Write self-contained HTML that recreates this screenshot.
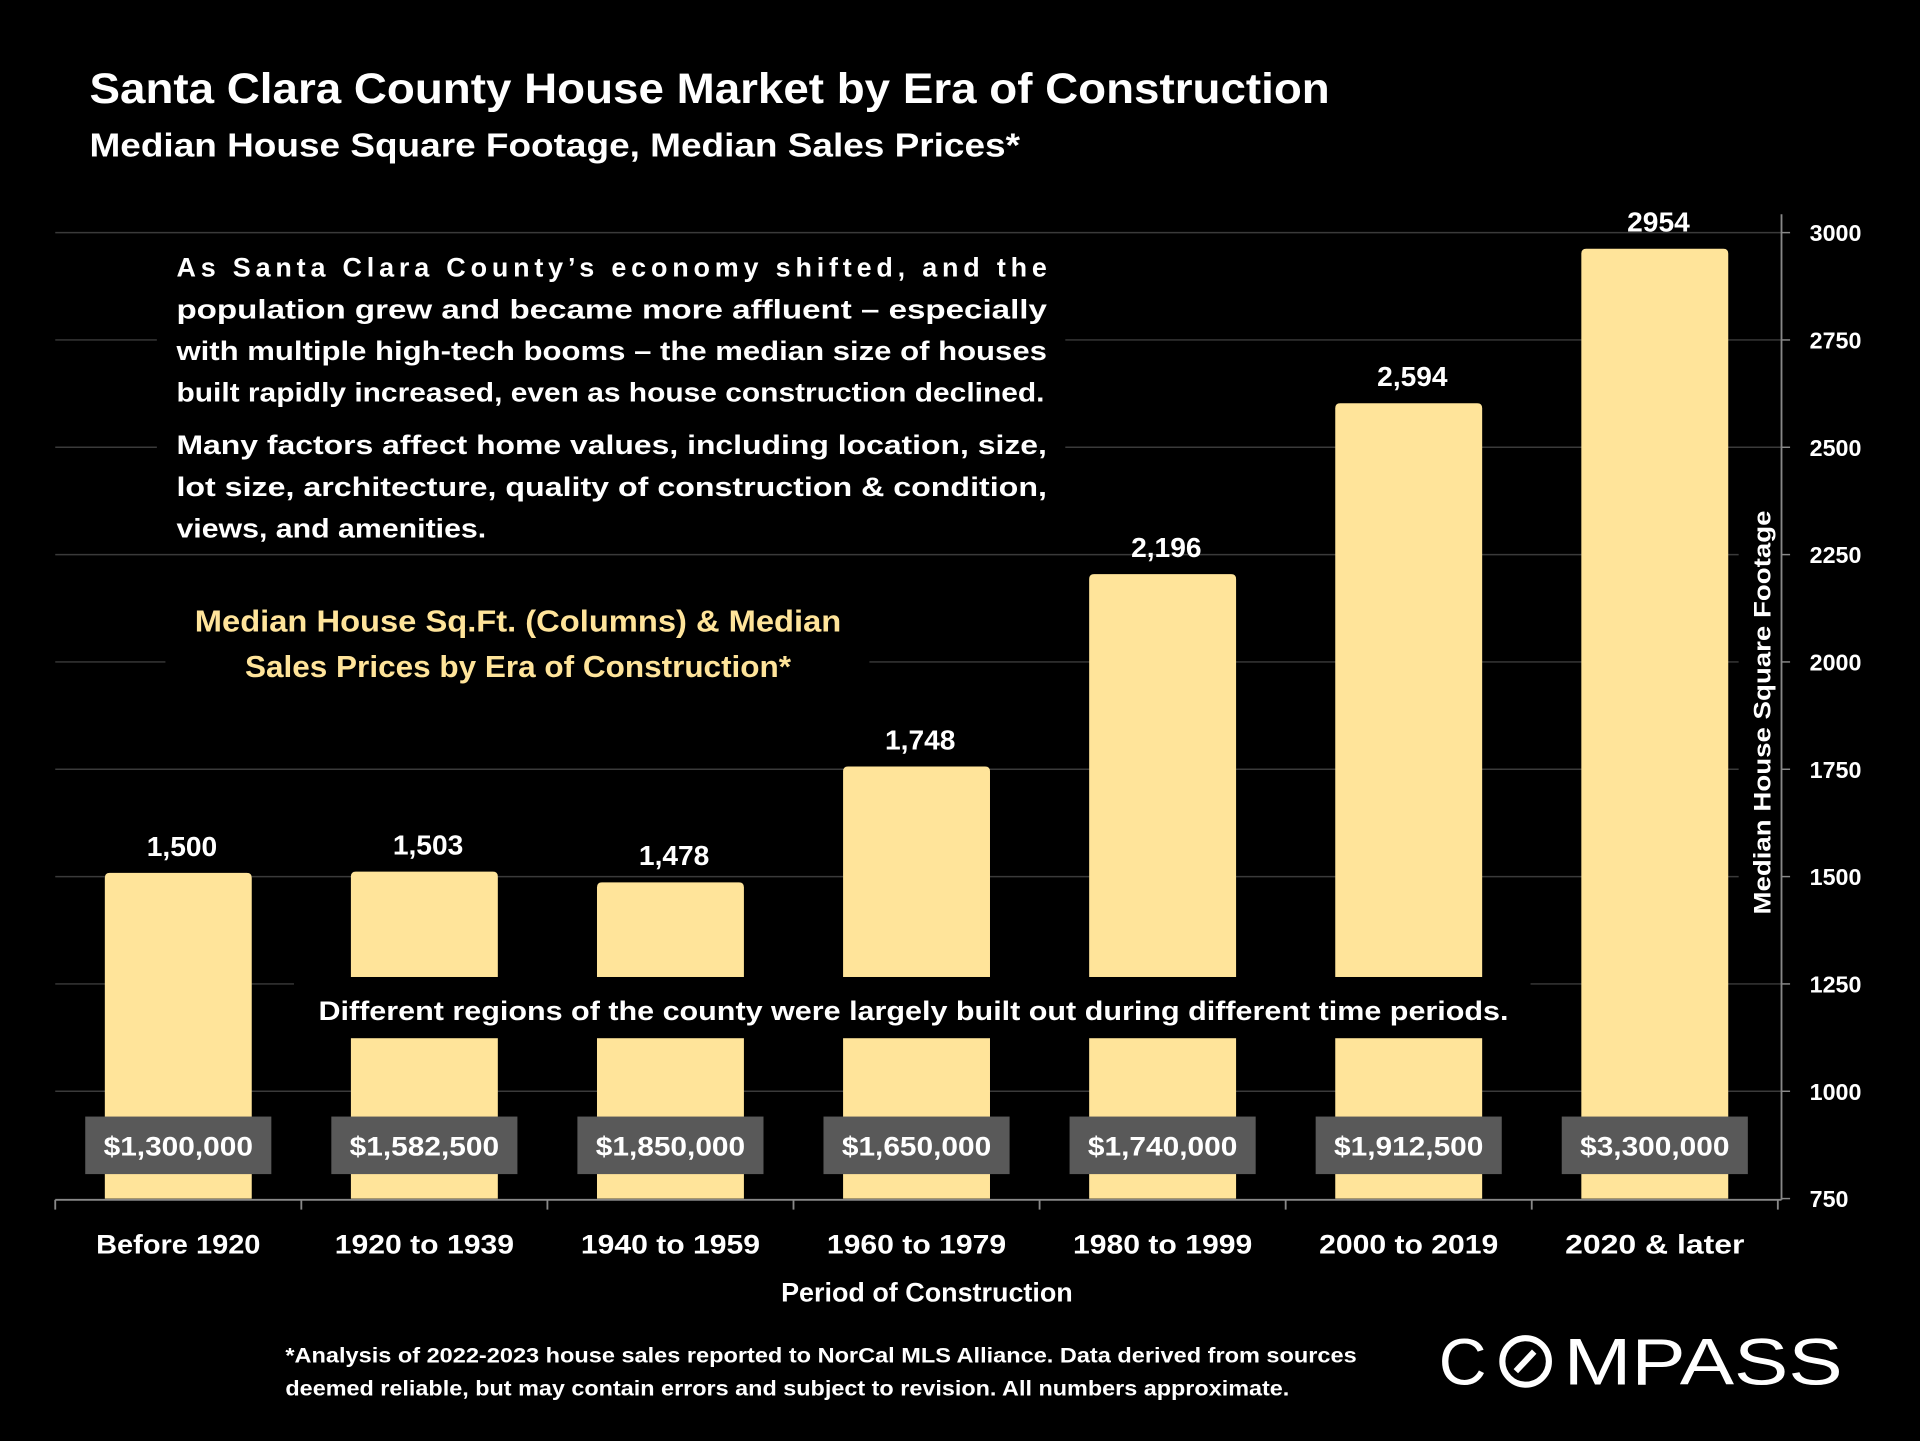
<!DOCTYPE html>
<html><head><meta charset="utf-8"><style>
html,body{margin:0;padding:0;background:#000;width:1920px;height:1441px;overflow:hidden}
svg{display:block}
text{font-family:"Liberation Sans",sans-serif;font-weight:bold}
</style></head><body>
<svg id="chart" width="1920" height="1441" viewBox="0 0 1568 1177" xmlns="http://www.w3.org/2000/svg">
<rect width="1568" height="1177" fill="#000"/>
<text x="73" y="84" fill="#fff" font-size="35" textLength="1013" lengthAdjust="spacingAndGlyphs">Santa Clara County House Market by Era of Construction</text>
<text x="73" y="128" fill="#fff" font-size="27" textLength="760" lengthAdjust="spacingAndGlyphs">Median House Square Footage, Median Sales Prices*</text>
<g id="grid"></g>
<g id="bars"></g>
<g id="overlays"></g>
<g id="axes"></g>
<text x="757" y="1063" fill="#fff" font-size="22" text-anchor="middle">Period of Construction</text>
<text transform="translate(1446,582) rotate(-90)" fill="#fff" font-size="20" text-anchor="middle" textLength="330" lengthAdjust="spacingAndGlyphs">Median House Square Footage</text>
<text fill="#fff" font-size="17"><tspan x="233" y="1113" textLength="875" lengthAdjust="spacingAndGlyphs">*Analysis of 2022-2023 house sales reported to NorCal MLS Alliance.  Data derived from sources</tspan><tspan x="233" y="1140" textLength="820" lengthAdjust="spacingAndGlyphs">deemed reliable, but may contain errors and subject to revision. All numbers approximate.</tspan></text>
<g>
<text x="1175" y="1131" fill="#fff" font-size="54" style="font-weight:normal">C</text>
<circle cx="1246" cy="1112" r="19" fill="none" stroke="#fff" stroke-width="5"/>
<line x1="1238" y1="1120" x2="1253" y2="1104" stroke="#fff" stroke-width="5"/>
<text x="1277" y="1131" fill="#fff" font-size="54" style="font-weight:normal" textLength="228" lengthAdjust="spacingAndGlyphs">MPASS</text>
</g>
</svg>
<script>
const categories=["Before 1920","1920 to 1939","1940 to 1959","1960 to 1979","1980 to 1999","2000 to 2019","2020 & later"];
const sqftValues=[1500,1503,1478,1748,2196,2594,2954];
const sqftLabels=["1,500","1,503","1,478","1,748","2,196","2,594","2954"];
const priceLabels=["$1,300,000","$1,582,500","$1,850,000","$1,650,000","$1,740,000","$1,912,500","$3,300,000"];
const yTicks=[750,1000,1250,1500,1750,2000,2250,2500,2750,3000];
const NS="http://www.w3.org/2000/svg";
const yMin=750,yMax=3000,yBot=979,yTop=190;
function y(v){return yBot-(v-yMin)*(yBot-yTop)/(yMax-yMin);}
const xLeft=45,step=201;
function xc(i){return xLeft+step*i+step/2;}
function mk(tag,attrs,parent,txt){const e=document.createElementNS(NS,tag);for(const k in attrs)e.setAttribute(k,attrs[k]);if(txt!==undefined)e.textContent=txt;parent.appendChild(e);return e;}
const grid=document.getElementById('grid'),bars=document.getElementById('bars'),ov=document.getElementById('overlays'),ax=document.getElementById('axes');
yTicks.forEach(t=>{
 if(t>yMin){const l=mk('line',{x1:45,x2:1455,y1:y(t),y2:y(t),stroke:'#3a3a3a','stroke-width':1.2},grid);
 
 }
 const tk=mk('line',{x1:1455,x2:1462,y1:y(t),y2:y(t),stroke:'#888','stroke-width':1.2},ax);
 
 
 const tl=mk('text',{x:1478,y:y(t)+7,fill:'#fff','font-size':19},ax,String(t));
 
 
});
categories.forEach((c,i)=>{
 const cx=xc(i),top=y(sqftValues[i])-3;
 const b=mk('path',{d:`M${cx-60},${yBot} L${cx-60},${top+4} Q${cx-60},${top} ${cx-56},${top} L${cx+56},${top} Q${cx+60},${top} ${cx+60},${top+4} L${cx+60},${yBot} Z`,fill:'#FFE49A'},bars);
 
 
 const vl=mk('text',{x:cx+3,y:top-14,fill:'#fff','font-size':23,'text-anchor':'middle'},bars,sqftLabels[i]);
 
 
 const xl=mk('text',{x:cx,y:1024,fill:'#fff','font-size':22,'text-anchor':'middle',textLength:c.length*12.2,lengthAdjust:'spacingAndGlyphs'},ax,c);
 
 
});
[[128,195,742,255],[135,488,575,78],[1420,408,35,348]].forEach(r=>{const e=mk('rect',{x:r[0],y:r[1],width:r[2],height:r[3],fill:'#000'},ov);
 
 });
const band=mk('rect',{x:240,y:798,width:1010,height:50,fill:'#000'},ov);


const ann=mk('text',{x:746,y:833,fill:'#fff','font-size':22,'text-anchor':'middle',textLength:972,lengthAdjust:'spacingAndGlyphs'},ov,'Different regions of the county were largely built out during different time periods.');


const para=["As Santa Clara County’s economy shifted, and the","population grew and became more affluent – especially","with multiple high-tech booms – the median size of houses","built rapidly increased, even as house construction declined."];
const paraAdj=['spacing','spacingAndGlyphs','spacingAndGlyphs','spacingAndGlyphs'];
para.forEach((s,i)=>{const e=mk('text',{x:144,y:226+i*34,fill:'#fff','font-size':22,textLength:i<3?711:709,lengthAdjust:paraAdj[i]},ov,s);
 
 });
const para2=["Many factors affect  home values, including location, size,","lot size, architecture, quality of construction & condition,","views, and amenities."];
para2.forEach((s,i)=>{const a={x:144,y:371+i*34,fill:'#fff','font-size':22};if(i<2){a.textLength=711;a.lengthAdjust='spacingAndGlyphs';}else{a.textLength=253;a.lengthAdjust='spacingAndGlyphs';}
 const e=mk('text',a,ov,s);
 
 });
[["Median House Sq.Ft. (Columns) & Median",516,528],["Sales Prices by Era of Construction*",553,446]].forEach(r=>{const e=mk('text',{x:423,y:r[1],fill:'#FFE49A','font-size':25,'text-anchor':'middle',textLength:r[2],lengthAdjust:'spacingAndGlyphs'},ov,r[0]);
 
 });
priceLabels.forEach((p,i)=>{const cx=xc(i);
 const r=mk('rect',{x:cx-76,y:912,width:152,height:47,fill:'#595959'},ov);
 
 
 const t=mk('text',{x:cx,y:944,fill:'#fff','font-size':22,'text-anchor':'middle',textLength:122,lengthAdjust:'spacingAndGlyphs'},ov,p);
 
 });
const xa=mk('line',{x1:45,x2:1455,y1:980,y2:980,stroke:'#888','stroke-width':1.5},ax);


const ya=mk('line',{x1:1455,x2:1455,y1:175,y2:980,stroke:'#888','stroke-width':1.5},ax);


for(let i=0;i<=categories.length;i++){const t=mk('line',{x1:xLeft+step*i,x2:xLeft+step*i,y1:980,y2:988,stroke:'#888','stroke-width':1.5},ax);
 
 }
</script>
</body></html>
